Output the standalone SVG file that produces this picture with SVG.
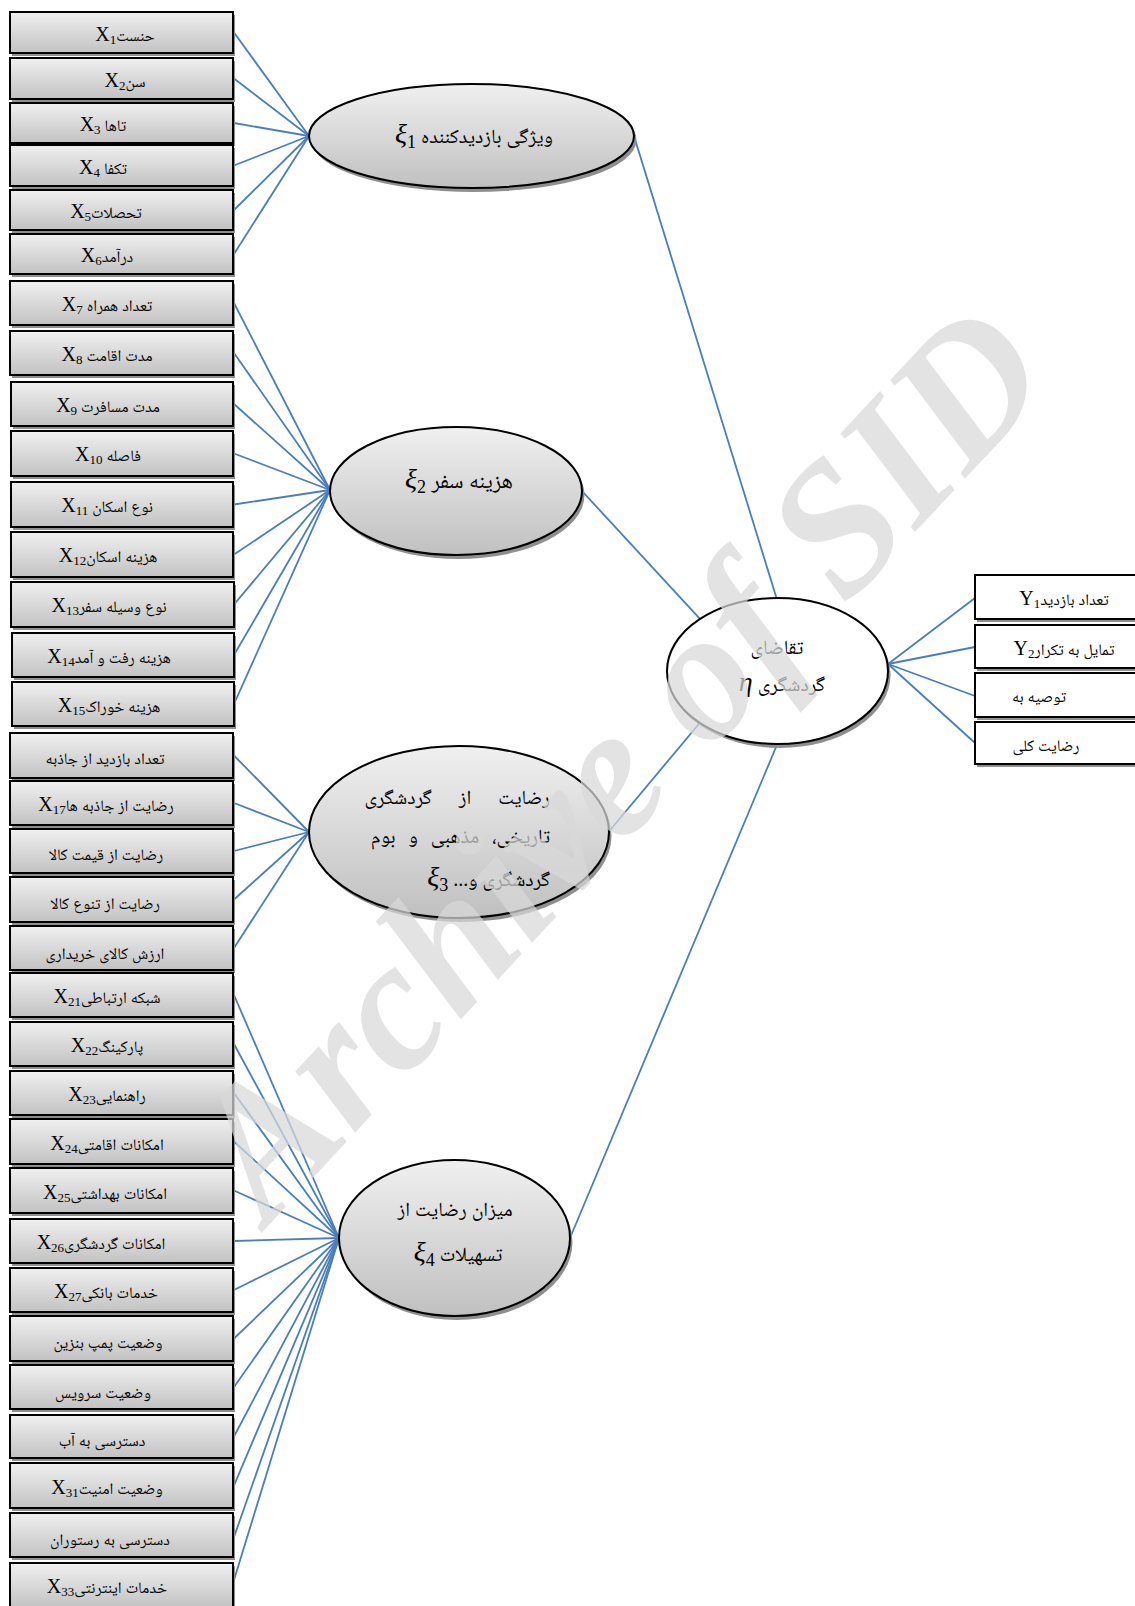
<svg xmlns="http://www.w3.org/2000/svg" width="1135" height="1606" viewBox="0 0 1135 1606">
<defs>
<linearGradient id="gBox" x1="0" y1="0" x2="0" y2="1"><stop offset="0" stop-color="#f0f0f0"/><stop offset="1" stop-color="#c2c2c2"/></linearGradient>
<linearGradient id="gEl" x1="0" y1="0" x2="0" y2="1"><stop offset="0" stop-color="#f0f0f0"/><stop offset="1" stop-color="#c0c0c0"/></linearGradient>
<style>
.bx{fill:url(#gBox);stroke:#000;stroke-width:2}
.wb{fill:#fff;stroke:#000;stroke-width:2}
.sh{fill:#8f8f8f}
.el{fill:url(#gEl);stroke:#000;stroke-width:2}
.we{fill:#fff;stroke:#000;stroke-width:2}
.t{font-family:"Liberation Serif","Noto Naskh Arabic","Noto Sans Arabic","DejaVu Sans",serif;font-size:16px;fill:#000;text-anchor:middle}
.x{font-size:20px}
.s{font-size:13px}
.et{font-family:"Liberation Serif","Noto Naskh Arabic","Noto Sans Arabic","DejaVu Sans",serif;font-size:20px;fill:#000;text-anchor:middle}
.gr{font-style:italic;font-size:28px}
.es{font-size:18px}
.wm{font-family:"Liberation Serif",serif;font-weight:bold;font-style:italic;font-size:186px;fill:#d9d9d9;opacity:0.72}
</style>
</defs>
<rect width="1135" height="1606" fill="#fff"/>
<g id="connectors" stroke="#4a7ebb" stroke-width="1.8" fill="none">
<line x1="234" y1="32.5" x2="309" y2="136"/>
<line x1="234" y1="78.5" x2="309" y2="136"/>
<line x1="234" y1="123" x2="309" y2="136"/>
<line x1="234" y1="165.5" x2="309" y2="136"/>
<line x1="234" y1="210" x2="309" y2="136"/>
<line x1="234" y1="254" x2="309" y2="136"/>
<line x1="234" y1="303" x2="330" y2="490"/>
<line x1="234" y1="353" x2="330" y2="490"/>
<line x1="234" y1="404" x2="330" y2="490"/>
<line x1="234" y1="453.5" x2="330" y2="490"/>
<line x1="234" y1="504.5" x2="330" y2="490"/>
<line x1="234" y1="554.5" x2="330" y2="490"/>
<line x1="234" y1="604.5" x2="330" y2="490"/>
<line x1="234" y1="655" x2="330" y2="490"/>
<line x1="234" y1="704" x2="330" y2="490"/>
<line x1="234" y1="755.5" x2="309" y2="832"/>
<line x1="234" y1="803" x2="309" y2="832"/>
<line x1="234" y1="851" x2="309" y2="832"/>
<line x1="234" y1="899.5" x2="309" y2="832"/>
<line x1="234" y1="948" x2="309" y2="832"/>
<line x1="234" y1="995" x2="339" y2="1238"/>
<line x1="234" y1="1044" x2="339" y2="1238"/>
<line x1="234" y1="1093" x2="339" y2="1238"/>
<line x1="234" y1="1141.5" x2="339" y2="1238"/>
<line x1="234" y1="1190.5" x2="339" y2="1238"/>
<line x1="234" y1="1241" x2="339" y2="1238"/>
<line x1="234" y1="1290" x2="339" y2="1238"/>
<line x1="234" y1="1338.5" x2="339" y2="1238"/>
<line x1="234" y1="1387" x2="339" y2="1238"/>
<line x1="234" y1="1436.5" x2="339" y2="1238"/>
<line x1="234" y1="1485.5" x2="339" y2="1238"/>
<line x1="234" y1="1537" x2="339" y2="1238"/>
<line x1="234" y1="1580" x2="339" y2="1238"/>
<line x1="634" y1="136" x2="776.5" y2="598"/>
<line x1="582" y1="491" x2="699.7" y2="618.7"/>
<line x1="608.5" y1="832" x2="699.7" y2="723"/>
<line x1="570" y1="1238" x2="776.5" y2="746"/>
<line x1="888" y1="664" x2="975" y2="598"/>
<line x1="888" y1="664" x2="975" y2="647"/>
<line x1="888" y1="664" x2="975" y2="696"/>
<line x1="888" y1="664" x2="975" y2="743"/>
</g>
<g id="x1"><rect class="sh" x="12" y="15" width="223" height="41"/><rect class="bx" x="10" y="12" width="223" height="41"/><text class="t" x="125" y="41"><tspan class="x">X</tspan><tspan class="s" baseline-shift="-3">1</tspan>حنست</text></g>
<g id="x2"><rect class="sh" x="12" y="61" width="223" height="41"/><rect class="bx" x="10" y="58" width="223" height="41"/><text class="t" x="125" y="87"><tspan class="x">X</tspan><tspan class="s" baseline-shift="-3">2</tspan>سن</text></g>
<g id="x3"><rect class="sh" x="12" y="106" width="223" height="40"/><rect class="bx" x="10" y="103" width="223" height="40"/><text class="t" x="103" y="131"><tspan class="x">X</tspan><tspan class="s" baseline-shift="-3">3</tspan> تاها</text></g>
<g id="x4"><rect class="sh" x="12" y="148" width="223" height="41"/><rect class="bx" x="10" y="145" width="223" height="41"/><text class="t" x="103" y="174"><tspan class="x">X</tspan><tspan class="s" baseline-shift="-3">4</tspan> تکفا</text></g>
<g id="x5"><rect class="sh" x="12" y="193" width="223" height="40"/><rect class="bx" x="10" y="190" width="223" height="40"/><text class="t" x="106" y="218"><tspan class="x">X</tspan><tspan class="s" baseline-shift="-3">5</tspan>تحصلات</text></g>
<g id="x6"><rect class="sh" x="12" y="237" width="223" height="40"/><rect class="bx" x="10" y="234" width="223" height="40"/><text class="t" x="107" y="262"><tspan class="x">X</tspan><tspan class="s" baseline-shift="-3">6</tspan>درآمد</text></g>
<g id="x7"><rect class="sh" x="12" y="284" width="223" height="44"/><rect class="bx" x="10" y="281" width="223" height="44"/><text class="t" x="107" y="311"><tspan class="x">X</tspan><tspan class="s" baseline-shift="-3">7</tspan> تعداد همراه</text></g>
<g id="x8"><rect class="sh" x="12" y="334" width="223" height="44"/><rect class="bx" x="10" y="331" width="223" height="44"/><text class="t" x="107" y="361"><tspan class="x">X</tspan><tspan class="s" baseline-shift="-3">8</tspan> مدت اقامت</text></g>
<g id="x9"><rect class="sh" x="13" y="385" width="222" height="44"/><rect class="bx" x="11" y="382" width="222" height="44"/><text class="t" x="108" y="412"><tspan class="x">X</tspan><tspan class="s" baseline-shift="-3">9</tspan> مدت مسافرت</text></g>
<g id="x10"><rect class="sh" x="13" y="434" width="222" height="45"/><rect class="bx" x="11" y="431" width="222" height="45"/><text class="t" x="108" y="461"><tspan class="x">X</tspan><tspan class="s" baseline-shift="-3">10</tspan> فاصله</text></g>
<g id="x11"><rect class="sh" x="13" y="485" width="222" height="45"/><rect class="bx" x="11" y="482" width="222" height="45"/><text class="t" x="107" y="512"><tspan class="x">X</tspan><tspan class="s" baseline-shift="-3">11</tspan> نوع اسکان</text></g>
<g id="x12"><rect class="sh" x="13" y="535" width="222" height="45"/><rect class="bx" x="11" y="532" width="222" height="45"/><text class="t" x="108" y="562"><tspan class="x">X</tspan><tspan class="s" baseline-shift="-3">12</tspan>هزینه اسکان</text></g>
<g id="x13"><rect class="sh" x="13" y="585" width="223" height="45"/><rect class="bx" x="11" y="582" width="223" height="45"/><text class="t" x="109" y="612"><tspan class="x">X</tspan><tspan class="s" baseline-shift="-3">13</tspan>نوع وسیله سفر</text></g>
<g id="x14"><rect class="sh" x="14" y="636" width="222" height="44"/><rect class="bx" x="12" y="633" width="222" height="44"/><text class="t" x="109" y="663"><tspan class="x">X</tspan><tspan class="s" baseline-shift="-3">14</tspan>هزینه رفت و آمد</text></g>
<g id="x15"><rect class="sh" x="14" y="685" width="222" height="44"/><rect class="bx" x="12" y="682" width="222" height="44"/><text class="t" x="109" y="712"><tspan class="x">X</tspan><tspan class="s" baseline-shift="-3">15</tspan>هزینه خوراک</text></g>
<g id="x16"><rect class="sh" x="12" y="736" width="223" height="45"/><rect class="bx" x="10" y="733" width="223" height="45"/><text class="t" x="105" y="764">تعداد بازدید از جاذبه</text></g>
<g id="x17"><rect class="sh" x="12" y="784" width="223" height="44"/><rect class="bx" x="10" y="781" width="223" height="44"/><text class="t" x="106" y="811"><tspan class="x">X</tspan><tspan class="s" baseline-shift="-3">17</tspan>رضایت از جاذبه ها</text></g>
<g id="x18"><rect class="sh" x="12" y="832" width="223" height="44"/><rect class="bx" x="10" y="829" width="223" height="44"/><text class="t" x="106" y="860">رضایت از قیمت کالا</text></g>
<g id="x19"><rect class="sh" x="12" y="880" width="223" height="45"/><rect class="bx" x="10" y="877" width="223" height="45"/><text class="t" x="105" y="909">رضایت از تنوع کالا</text></g>
<g id="x20"><rect class="sh" x="12" y="929" width="223" height="44"/><rect class="bx" x="10" y="926" width="223" height="44"/><text class="t" x="105" y="959">ارزش کالای خریداری</text></g>
<g id="x21"><rect class="sh" x="12" y="976" width="223" height="44"/><rect class="bx" x="10" y="973" width="223" height="44"/><text class="t" x="107" y="1003"><tspan class="x">X</tspan><tspan class="s" baseline-shift="-3">21</tspan>شبکه ارتباطی</text></g>
<g id="x22"><rect class="sh" x="12" y="1025" width="223" height="44"/><rect class="bx" x="10" y="1022" width="223" height="44"/><text class="t" x="107" y="1052"><tspan class="x">X</tspan><tspan class="s" baseline-shift="-3">22</tspan>پارکینگ</text></g>
<g id="x23"><rect class="sh" x="12" y="1074" width="223" height="44"/><rect class="bx" x="10" y="1071" width="223" height="44"/><text class="t" x="107" y="1101"><tspan class="x">X</tspan><tspan class="s" baseline-shift="-3">23</tspan>راهنمایی</text></g>
<g id="x24"><rect class="sh" x="12" y="1122" width="223" height="45"/><rect class="bx" x="10" y="1119" width="223" height="45"/><text class="t" x="107" y="1150"><tspan class="x">X</tspan><tspan class="s" baseline-shift="-3">24</tspan>امکانات اقامتی</text></g>
<g id="x25"><rect class="sh" x="12" y="1171" width="223" height="45"/><rect class="bx" x="10" y="1168" width="223" height="45"/><text class="t" x="105" y="1199"><tspan class="x">X</tspan><tspan class="s" baseline-shift="-3">25</tspan>امکانات بهداشتی</text></g>
<g id="x26"><rect class="sh" x="12" y="1222" width="223" height="44"/><rect class="bx" x="10" y="1219" width="223" height="44"/><text class="t" x="101" y="1249"><tspan class="x">X</tspan><tspan class="s" baseline-shift="-3">26</tspan>امکانات گردشگری</text></g>
<g id="x27"><rect class="sh" x="12" y="1271" width="223" height="44"/><rect class="bx" x="10" y="1268" width="223" height="44"/><text class="t" x="106" y="1298"><tspan class="x">X</tspan><tspan class="s" baseline-shift="-3">27</tspan>خدمات بانکی</text></g>
<g id="x28"><rect class="sh" x="12" y="1319" width="223" height="45"/><rect class="bx" x="10" y="1316" width="223" height="45"/><text class="t" x="108" y="1348">وضعیت پمپ بنزین</text></g>
<g id="x29"><rect class="sh" x="12" y="1368" width="223" height="44"/><rect class="bx" x="10" y="1365" width="223" height="44"/><text class="t" x="103" y="1398">وضعیت سرویس</text></g>
<g id="x30"><rect class="sh" x="12" y="1418" width="223" height="43"/><rect class="bx" x="10" y="1415" width="223" height="43"/><text class="t" x="102" y="1446">دسترسی به آب</text></g>
<g id="x31"><rect class="sh" x="12" y="1466" width="223" height="45"/><rect class="bx" x="10" y="1463" width="223" height="45"/><text class="t" x="107" y="1494"><tspan class="x">X</tspan><tspan class="s" baseline-shift="-3">31</tspan>وضعیت امنیت</text></g>
<g id="x32"><rect class="sh" x="12" y="1516" width="223" height="44"/><rect class="bx" x="10" y="1513" width="223" height="44"/><text class="t" x="110" y="1545">دسترسی به رستوران</text></g>
<g id="x33"><rect class="sh" x="12" y="1566" width="223" height="45"/><rect class="bx" x="10" y="1563" width="223" height="45"/><text class="t" x="107" y="1593"><tspan class="x">X</tspan><tspan class="s" baseline-shift="-3">33</tspan>خدمات اینترنتی</text></g>
<g id="xi1"><ellipse class="sh" cx="474" cy="140" rx="162.5" ry="52"/><ellipse class="el" cx="471.5" cy="136" rx="162.5" ry="52"/><text class="et" x="474" y="143"><tspan class="gr">ξ</tspan><tspan class="es" baseline-shift="-5">1</tspan> ویژگی بازدیدکننده</text></g>
<g id="xi2"><ellipse class="sh" cx="458.5" cy="495" rx="126" ry="64"/><ellipse class="el" cx="456" cy="491" rx="126" ry="64"/><text class="et" x="459" y="488" style="font-size:22px"><tspan class="gr">ξ</tspan><tspan class="es" baseline-shift="-5">2</tspan> هزینه سفر</text></g>
<g id="xi3"><ellipse class="sh" cx="461.5" cy="836" rx="150" ry="86"/><ellipse class="el" cx="459" cy="832" rx="150" ry="86"/><text class="et" x="550" y="804" style="text-anchor:end" word-spacing="22">رضایت از گردشگری</text><text class="et" x="550" y="843" style="text-anchor:end" word-spacing="8">تاریخی، مذهبی و بوم</text><text class="et" x="550" y="886" direction="rtl" style="text-anchor:start">گردشگری و... <tspan class="gr">ξ</tspan><tspan class="es" baseline-shift="-5">3</tspan></text></g>
<g id="xi4"><ellipse class="sh" cx="457" cy="1242" rx="115.5" ry="78"/><ellipse class="el" cx="454.5" cy="1238" rx="115.5" ry="78"/><text class="et" x="455" y="1216">میزان رضایت از</text><text class="et" x="458" y="1261"><tspan class="gr">ξ</tspan><tspan class="es" baseline-shift="-5">4</tspan> تسهیلات</text></g>
<g id="eta"><ellipse class="sh" cx="780" cy="675" rx="110.5" ry="73"/><ellipse class="we" cx="777.5" cy="671" rx="110.5" ry="73"/><text class="et" x="777" y="654">تقاضای</text><text class="et" x="782" y="691"><tspan class="gr">η</tspan> گردشگری</text></g>
<g id="y1"><rect class="sh" x="977" y="578" width="170" height="44"/><rect class="wb" x="975" y="575" width="170" height="44"/><text class="t" x="1064" y="605"><tspan class="x">Y</tspan><tspan class="s" baseline-shift="-3">1</tspan>تعداد بازدید</text></g>
<g id="y2"><rect class="sh" x="977" y="628" width="170" height="43"/><rect class="wb" x="975" y="625" width="170" height="43"/><text class="t" x="1064" y="655"><tspan class="x">Y</tspan><tspan class="s" baseline-shift="-3">2</tspan>تمایل به تکرار</text></g>
<g id="y3"><rect class="sh" x="977" y="676" width="170" height="44"/><rect class="wb" x="975" y="673" width="170" height="44"/><text class="t" x="1039" y="702">توصیه به</text></g>
<g id="y4"><rect class="sh" x="977" y="725" width="170" height="42"/><rect class="wb" x="975" y="722" width="170" height="42"/><text class="t" x="1046" y="751">رضایت کلی</text></g>
<text class="wm" transform="translate(268,1226) rotate(-47)">Archive of SID</text>
</svg>
